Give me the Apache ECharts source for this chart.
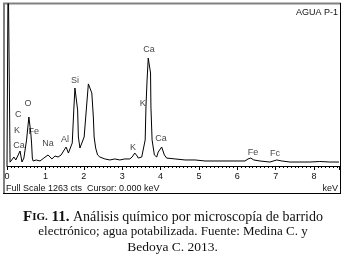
<!DOCTYPE html>
<html>
<head>
<meta charset="utf-8">
<script src="https://cdn.jsdelivr.net/npm/echarts@6/dist/echarts.min.js"></script>
<style>
html,body{margin:0;padding:0;background:#fff;}
#c{width:345px;height:256px;}
</style>
</head>
<body>
<div id="c"></div>
<script>
// Spectrum: energy (keV) and counts
const energyKeV = [0.00,0.02,0.03,0.07,0.08,0.13,0.18,0.23,0.34,0.39,0.44,0.51,0.57,0.62,0.64,0.66,0.68,0.76,0.86,0.96,1.07,1.17,1.25,1.33,1.41,1.49,1.54,1.60,1.64,1.70,1.74,1.77,1.80,1.84,1.86,1.90,1.95,2.01,2.08,2.12,2.15,2.21,2.25,2.27,2.31,2.36,2.42,2.55,2.68,2.81,2.94,3.07,3.20,3.26,3.33,3.39,3.42,3.51,3.60,3.62,3.65,3.68,3.71,3.74,3.75,3.78,3.84,3.90,3.94,4.03,4.10,4.16,4.38,4.64,4.90,5.16,5.42,5.68,5.94,6.20,6.28,6.35,6.43,6.59,6.85,7.03,7.16,7.37,7.63,7.89,8.15,8.41,8.65];
const counts    = [0,0,1600,1600,30,31,70,47,117,31,62,203,382,257,179,62,39,47,39,62,86,55,78,70,86,125,148,101,86,179,437,608,601,437,226,140,133,226,491,640,655,569,382,226,140,86,70,55,47,55,47,55,55,70,101,78,62,70,203,460,671,842,842,725,460,203,86,70,109,148,86,62,55,47,47,39,39,39,39,39,55,62,47,39,31,47,39,31,31,31,35,31,31];

// Peak labels: element name, anchor energy (keV), anchor counts
const peakNames  = ["Ca","K","K","Ca","Si","Al","O","C","K","Fe","Ca","Na","Fe","Fc"];
const peakKeV    = [3.70,3.54,3.28,4.01,1.77,1.51,0.55,0.29,0.26,0.70,0.31,1.07,6.41,6.98];
const peakCounts = [905,491,148,211,663,203,484,398,273,265,156,172,109,94];

const tickLabels = ["0","1","2","3","4","5","6","7","8"];
const fullScale = 1263;
const sampleName = "AGUA P-1";
const statusText = "Full Scale 1263 cts  Cursor: 0.000 keV";
const unitText = "keV";
const captionLines = ["Análisis químico por microscopía de barrido","electrónico; agua potabilizada. Fuente: Medina C. y","Bedoya C. 2013."];

const chart = echarts.init(document.getElementById('c'), null, {renderer:'canvas'});
const lineData = energyKeV.map((e,i)=>[e,counts[i]]);
const labelData = peakNames.map((n,i)=>[peakKeV[i],peakCounts[i],n]);
const sans = 'Liberation Sans, Arial, sans-serif';
const serif = 'Liberation Serif, Times New Roman, serif';

chart.setOption({
  backgroundColor:'#fff',
  animation:false,
  grid:{left:7, width:332, top:4, height:162},
  xAxis:{type:'value', min:0, max:8.65, interval:1,
    axisLine:{show:true, lineStyle:{color:'#000', width:1}},
    axisTick:{show:true, length:4, lineStyle:{color:'#000'}},
    minorTick:{show:true, splitNumber:10, length:2, lineStyle:{color:'#000'}},
    splitLine:{show:false},
    axisLabel:{margin:6, fontSize:9, fontFamily:sans, color:'#111', showMaxLabel:false,
      formatter:(v)=> tickLabels[Math.round(v)] !== undefined && Math.abs(v-Math.round(v))<1e-6 ? tickLabels[Math.round(v)] : ''}
  },
  yAxis:{type:'value', min:0, max:fullScale, show:false},
  series:[
    {type:'line', data:lineData, showSymbol:false, symbol:'none', clip:true,
     lineStyle:{color:'#000', width:1}, silent:true},
    {type:'scatter', data:labelData, symbolSize:0, clip:false, silent:true,
     label:{show:true, position:'inside', formatter:(p)=>p.data[2], fontSize:9, fontFamily:sans, color:'#111'}}
  ],
  graphic:[
    {type:'line', shape:{x1:3, y1:3.5, x2:341, y2:3.5}, style:{stroke:'#808080', lineWidth:2}},
    {type:'line', shape:{x1:4, y1:3, x2:4, y2:194}, style:{stroke:'#808080', lineWidth:2}},
    {type:'line', shape:{x1:340.5, y1:3, x2:340.5, y2:194}, style:{stroke:'#000', lineWidth:1}},
    {type:'line', shape:{x1:3, y1:193.5, x2:341, y2:193.5}, style:{stroke:'#000', lineWidth:1}},
    {type:'text', right:7, top:8, style:{text:sampleName, font:'9px '+sans, fill:'#111'}},
    {type:'text', left:6, top:184, style:{text:statusText, font:'9px '+sans, fill:'#111'}},
    {type:'text', right:7, top:184, style:{text:unitText, font:'9px '+sans, fill:'#111'}},
    {type:'text', x:173, y:217, style:{
      rich:{
        b:{font:'bold 15px '+serif, fill:'#111'},
        s:{font:'bold 11px '+serif, fill:'#111'},
        r:{font:'14px '+serif, fill:'#111'}
      },
      text:'{b|F}{s|IG.}{b| 11.}{r| '+captionLines[0]+'}', align:'center', verticalAlign:'middle'}},
    {type:'text', x:173, y:232, style:{text:captionLines[1], font:'13px '+serif, fill:'#111', align:'center', verticalAlign:'middle'}},
    {type:'text', x:172.5, y:247, style:{text:captionLines[2], font:'13.5px '+serif, fill:'#111', align:'center', verticalAlign:'middle'}}
  ]
});
</script>
</body>
</html>
